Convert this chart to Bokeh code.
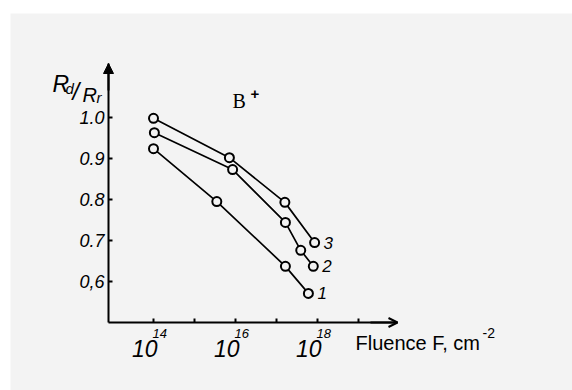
import math
from bokeh.plotting import figure
from bokeh.models import Range1d, FixedTicker, Label, Arrow, OpenHead, NormalHead, ColumnDataSource
from bokeh.core.properties import value
from bokeh.embed import file_html
from bokeh.resources import INLINE

# ---- data ----
fluence_1 = [1.0e14, 3.5e15, 1.65e17, 6.0e17]
ratio_1 = [0.924, 0.795, 0.637, 0.571]
fluence_2 = [1.05e14, 8.5e15, 1.65e17, 3.9e17, 7.9e17]
ratio_2 = [0.963, 0.873, 0.744, 0.676, 0.637]
fluence_3 = [1.0e14, 7.1e15, 1.6e17, 8.5e17]
ratio_3 = [0.998, 0.902, 0.793, 0.695]
curve_names = ["1", "2", "3"]

y_ticks = [0.6, 0.7, 0.8, 0.9, 1.0]
y_tick_labels = ["0,6", "0.7", "0.8", "0.9", "1.0"]
x_ticks = [1e14, 1e15, 1e16, 1e17, 1e18, 1e19]
x_labelled = [1e14, 1e16, 1e18]
x_exponents = ["14", "16", "18"]

BG = "#f3f3f3"
HAND = "Liberation Sans"
W, H = 572, 390
ML, MT = 10, 13   # white strip at left / top of the scan

# picture-pixel -> data helpers (41 px per decade, 410 px per unit of ratio)
def dx(px):
    return 10 ** (14 + (px - 153) / 41.0)

def dy(py):
    return 1.0 - (py - 117) / 410.0

p = figure(width=W, height=H, output_backend="svg", toolbar_location=None,
           x_axis_type="log",
           x_range=Range1d(dx(ML), dx(W)), y_range=Range1d(dy(H), dy(MT)),
           min_border_left=ML, min_border_right=0, min_border_top=MT, min_border_bottom=0,
           background_fill_color=BG, border_fill_color="white")
p.outline_line_color = None
p.grid.visible = False

X0, X1 = dx(108), dx(397)
Y0, Y1 = dy(322), dy(63)

# y axis
ya = p.yaxis[0]
ya.fixed_location = X0
ya.bounds = (Y0, Y1)
ya.ticker = FixedTicker(ticks=y_ticks)
ya.major_label_overrides = {t: s for t, s in zip(y_ticks, y_tick_labels)}
ya.major_label_text_font = HAND
ya.major_label_text_font_style = "italic"
ya.major_label_text_font_size = "18px"
ya.major_label_text_color = "black"
ya.major_label_standoff = 4
ya.major_tick_in = 4
ya.major_tick_out = 0
ya.minor_tick_line_color = None
ya.axis_line_width = 2
ya.major_tick_line_width = 2

# x axis (its printed labels are drawn below as 10^n)
xa = p.xaxis[0]
xa.fixed_location = Y0
xa.bounds = (X0, X1)
xa.ticker = FixedTicker(ticks=x_ticks)
xa.major_label_text_alpha = 0
xa.major_tick_in = 4
xa.major_tick_out = 0
xa.minor_tick_line_color = None
xa.axis_line_width = 2
xa.major_tick_line_width = 2

# arrows at axis ends
p.add_layout(Arrow(x_start=dx(370), y_start=Y0, x_end=X1, y_end=Y0,
                   line_width=2, end=OpenHead(size=9, line_width=2)))
p.add_layout(Arrow(x_start=X0, y_start=dy(90), x_end=X0, y_end=Y1,
                   line_width=2, end=NormalHead(size=10, fill_color="black", line_width=1)))

# curves
curves = [(fluence_1, ratio_1), (fluence_2, ratio_2), (fluence_3, ratio_3)]
for fx, ry in curves:
    p.line(fx, ry, line_color="black", line_width=1.7)
    p.scatter(fx, ry, marker="circle", size=9, fill_color=BG, line_color="black", line_width=2)

src = ColumnDataSource(dict(x=[c[0][-1] for c in curves], y=[c[1][-1] for c in curves], t=curve_names))
p.text(x="x", y="y", text="t", source=src, x_offset=9, text_baseline="middle",
       text_font=value(HAND), text_font_style="italic", text_font_size="17px", text_color="black")

def lab(px_x, py, text, size, font=HAND, style="italic", align="left", xoff=0, xdata=None):
    fs = float(size.replace("px", ""))
    yy = dy(py - 0.3 * fs)   # compensate the label's baseline placement
    xx = xdata if xdata is not None else dx(px_x)
    p.add_layout(Label(x=xx, y=yy, x_offset=xoff, text=text,
                       text_align=align, text_baseline="alphabetic", text_font=font,
                       text_font_style=style, text_font_size=size, text_color="black"))

# x tick labels 10^n
for t, e in zip(x_labelled, x_exponents):
    lab(None, 355, "10", "23px", align="right", xoff=4, xdata=t)
    lab(None, 337, e, "13px", xoff=-1, xdata=t)

# x axis title
lab(355, 348, "Fluence F, cm", "20px", font="Liberation Sans", style="normal")
lab(482, 337, "-2", "14px", font="Liberation Sans", style="normal")

# y axis title R_d/R_r
for px, py, s, fs in [(52, 90, "R", "23px"), (65, 92, "d", "15px"), (72, 98, "/", "24px"),
                      (82, 100, "R", "20px"), (96, 101, "r", "15px")]:
    lab(px, py, s, fs)

# B+ annotation
lab(232, 106, "B", "20px", font="Liberation Serif", style="normal")
lab(250, 98, "+", "15px", font="Liberation Sans", style="bold")

open("out.html", "w").write(file_html(p, INLINE))
